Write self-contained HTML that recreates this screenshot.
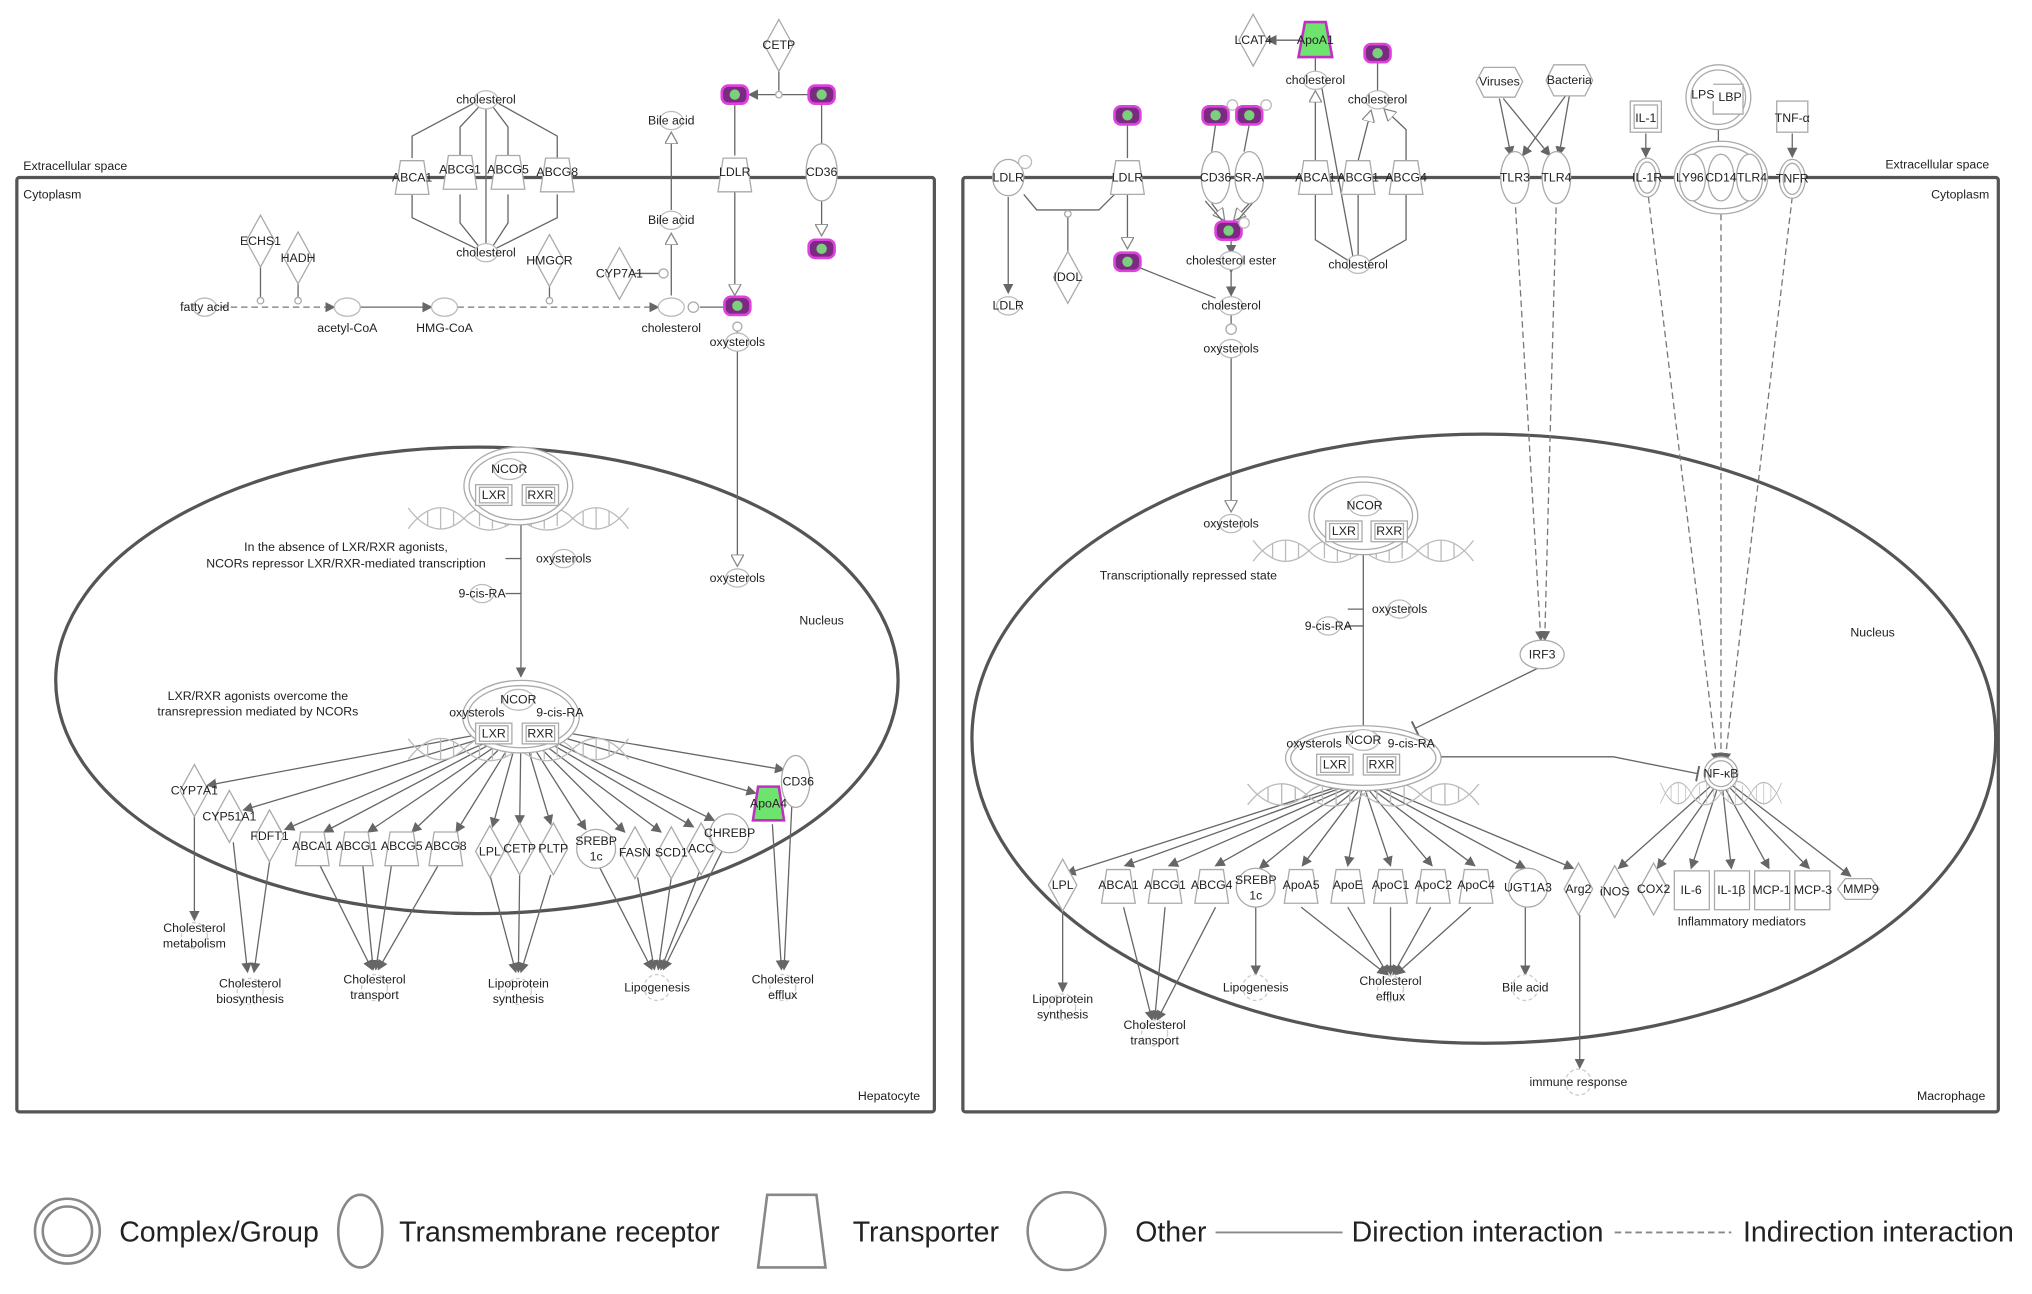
<!DOCTYPE html>
<html><head><meta charset="utf-8"><style>
html,body{margin:0;padding:0;background:#fff;}
svg{display:block;}
text{font-family:"Liberation Sans",sans-serif;fill:#222;font-size:9.5px;text-anchor:middle;}
.n{fill:#fff;stroke:#aaa;stroke-width:1;}
.c{fill:#fff;stroke:#bbb;stroke-width:1;}
.l{stroke:#666;stroke-width:1;fill:none;}
.d{stroke:#777;stroke-width:1;fill:none;stroke-dasharray:5,3;}
.m{stroke:#555;stroke-width:2.5;fill:none;}
.lg{font-size:22px;text-anchor:start;fill:#222;}
.lt{text-anchor:start;}
.rt{text-anchor:end;}
</style></head><body>
<svg width="2032" height="1294" viewBox="0 0 1568 998.5" xmlns="http://www.w3.org/2000/svg">
<defs>
<marker id="a" markerWidth="8" markerHeight="8" refX="7" refY="4" orient="auto" markerUnits="userSpaceOnUse"><path d="M0,0 L8,4 L0,8Z" fill="#666"/></marker>
<marker id="o" markerWidth="10" markerHeight="10" refX="9" refY="5" orient="auto" markerUnits="userSpaceOnUse"><path d="M0,0 L9,5 L0,10Z" fill="#fff" stroke="#888"/></marker>
<marker id="t" markerWidth="4" markerHeight="12" refX="2" refY="6" orient="auto" markerUnits="userSpaceOnUse"><path d="M2,0 L2,12" stroke="#666" stroke-width="1.5"/></marker>
<path id="tr" d="M-9,-13 L9,-13 L13,13 L-13,13Z" class="n"/>
<path id="dia" d="M0,-20 L11,0 L0,20 L-11,0Z" class="n"/>
<ellipse id="ell" rx="11" ry="20" class="n"/>
<ellipse id="sm" rx="9" ry="7" class="c"/>
<g id="hdl"><rect x="-10" y="-7" width="20" height="14" rx="5" fill="#7a2a80" stroke="#e040e0" stroke-width="2"/><ellipse rx="4" ry="4" fill="#7bd07b"/></g>
<g id="fn"><circle r="10" fill="#fff" stroke="#ccc" stroke-dasharray="3,2"/></g>
<g id="hx" fill="none" stroke="#bbb" stroke-width="1"><path d="M-85,8 C-70,-12 -55,-12 -42,0 C-30,12 -15,12 0,0 C15,-12 30,-12 42,0 C55,12 70,12 85,-8"/><path d="M-85,-8 C-70,12 -55,12 -42,0 C-30,-12 -15,-12 0,0 C15,12 30,12 42,0 C55,-12 70,-12 85,8"/><path d="M-70,-6v12M-60,-8v16M-50,-6v12M-30,-6v12M-20,-8v16M-10,-6v12M10,-6v12M20,-8v16M30,-6v12M50,-6v12M60,-8v16M70,-6v12"/></g>
</defs>

<!-- ================= LEFT CELL ================= -->
<rect x="13" y="137" width="708" height="721" rx="2" class="m"/>
<text x="18" y="131" class="lt">Extracellular space</text>
<text x="18" y="153" class="lt">Cytoplasm</text>
<text x="710" y="849" class="rt">Hepatocyte</text>
<ellipse cx="368" cy="525" rx="325" ry="180" class="m" stroke-width="2"/>
<text x="634" y="482">Nucleus</text>

<g class="l">
<path d="M318,122 V105 L365,80"/><path d="M355,120 V98 L370,82"/><path d="M392,120 V98 L380,82"/><path d="M430,122 V105 L385,80"/>
<path d="M375,84 V190"/>
<path d="M318,150 V168 L368,192"/><path d="M355,150 V172 L371,192"/><path d="M392,150 V172 L379,192"/><path d="M430,150 V168 L382,192"/>
</g>
<use href="#sm" x="375" y="77"/><text x="375" y="80">cholesterol</text>
<use href="#sm" x="375" y="195"/><text x="375" y="198">cholesterol</text>
<use href="#tr" x="318" y="137"/><text x="318" y="140">ABCA1</text>
<use href="#tr" x="355" y="133"/><text x="355" y="134">ABCG1</text>
<use href="#tr" x="392" y="133"/><text x="392" y="134">ABCG5</text>
<use href="#tr" x="430" y="135"/><text x="430" y="136">ABCG8</text>

<g class="l">
<path d="M601,55 V70"/><path d="M625,73 H578" marker-end="url(#a)"/>
<path d="M634,80 V115"/><path d="M634,155 V182" marker-end="url(#o)"/>
<path d="M567,80 V120"/><path d="M567,148 V228" marker-end="url(#o)"/>
<path d="M569,250 V437" marker-end="url(#o)"/>
<path d="M518,228 V180" marker-end="url(#o)"/><path d="M518,162 V102" marker-end="url(#o)"/>
<path d="M490,211 H508"/>
<path d="M170,237 H258" class="d" marker-end="url(#a)"/>
<path d="M278,237 H333" marker-end="url(#a)" marker-start="url(#a)"/>
<path d="M353,237 H508" class="d" marker-end="url(#a)"/>
<path d="M201,206 V230"/><path d="M230,219 V230"/><path d="M424,221 V230"/>
<path d="M540,237 H559"/>
</g>
<circle cx="601" cy="73" r="2.5" class="n"/>
<use href="#dia" x="601" y="35"/><text x="601" y="38">CETP</text>
<use href="#hdl" x="567" y="73"/><use href="#hdl" x="634" y="73"/>
<use href="#tr" x="567" y="135"/><text x="567" y="136">LDLR</text>
<ellipse cx="634" cy="133" rx="12" ry="22" class="n"/><text x="634" y="136">CD36</text>
<use href="#hdl" x="634" y="192"/>
<use href="#sm" x="518" y="93"/><text x="518" y="96">Bile acid</text>
<use href="#sm" x="518" y="170"/><text x="518" y="173">Bile acid</text>
<use href="#dia" x="478" y="211"/><text x="478" y="214">CYP7A1</text>
<circle cx="512" cy="211" r="3.5" class="n"/>
<use href="#dia" x="201" y="186"/><text x="201" y="189">ECHS1</text>
<use href="#dia" x="230" y="199"/><text x="230" y="202">HADH</text>
<use href="#dia" x="424" y="201"/><text x="424" y="204">HMGCR</text>
<circle cx="201" cy="232" r="2.5" class="n"/><circle cx="230" cy="232" r="2.5" class="n"/><circle cx="424" cy="232" r="2.5" class="n"/>
<use href="#sm" x="158" y="237"/><text x="158" y="240">fatty acid</text>
<ellipse cx="268" cy="237" rx="10" ry="7" class="c"/><text x="268" y="256">acetyl-CoA</text>
<ellipse cx="343" cy="237" rx="10" ry="7" class="c"/><text x="343" y="256">HMG-CoA</text>
<ellipse cx="518" cy="237" rx="10" ry="7" class="c"/><text x="518" y="256">cholesterol</text>
<circle cx="535" cy="237" r="4" class="n"/>
<use href="#hdl" x="569" y="236"/>
<circle cx="569" cy="252" r="3.5" class="n"/>
<use href="#sm" x="569" y="264"/><text x="569" y="267">oxysterols</text>
<use href="#sm" x="569" y="446"/><text x="569" y="449">oxysterols</text>

<path d="M402,400 V522" class="l" marker-end="url(#a)"/>
<path d="M390,431 C398,431 398,431 402,431" class="l"/>
<path d="M390,458 H402" class="l"/>
<use href="#hx" x="400" y="400"/>
<ellipse cx="400" cy="375" rx="42" ry="30" class="n"/><ellipse cx="400" cy="375" rx="38" ry="26" class="n"/>
<ellipse cx="393" cy="362" rx="12" ry="8" class="c"/><text x="393" y="365">NCOR</text>
<rect x="367" y="374" width="28" height="16" class="n"/><rect x="370" y="376" width="22" height="12" class="n"/><text x="381" y="385">LXR</text>
<rect x="403" y="374" width="28" height="16" class="n"/><rect x="406" y="376" width="22" height="12" class="n"/><text x="417" y="385">RXR</text>
<text x="267" y="425">In the absence of LXR/RXR agonists,</text>
<text x="267" y="438">NCORs repressor LXR/RXR-mediated transcription</text>
<use href="#sm" x="435" y="431"/><text x="435" y="434">oxysterols</text>
<use href="#sm" x="372" y="458"/><text x="372" y="461">9-cis-RA</text>
<text x="199" y="540">LXR/RXR agonists overcome the</text>
<text x="199" y="552">transrepression mediated by NCORs</text>

<g class="l">
<path d="M395,562 L160,606" marker-end="url(#a)"/>
<path d="M395,563 L188,625" marker-end="url(#a)"/>
<path d="M396,564 L220,640" marker-end="url(#a)"/>
<path d="M396,565 L250,642" marker-end="url(#a)"/>
<path d="M397,566 L284,642" marker-end="url(#a)"/>
<path d="M398,566 L318,642" marker-end="url(#a)"/>
<path d="M399,566 L352,642" marker-end="url(#a)"/>
<path d="M400,566 L380,638" marker-end="url(#a)"/>
<path d="M402,566 L401,636" marker-end="url(#a)"/>
<path d="M404,566 L425,636" marker-end="url(#a)"/>
<path d="M405,566 L452,640" marker-end="url(#a)"/>
<path d="M406,566 L482,642" marker-end="url(#a)"/>
<path d="M407,565 L510,642" marker-end="url(#a)"/>
<path d="M408,564 L535,638" marker-end="url(#a)"/>
<path d="M409,563 L551,633" marker-end="url(#a)"/>
<path d="M410,562 L583,612" marker-end="url(#a)"/>
<path d="M411,561 L605,594" marker-end="url(#a)"/>
<path d="M150,630 V710" marker-end="url(#a)"/>
<path d="M180,650 L191,750" marker-end="url(#a)"/>
<path d="M208,665 L196,750" marker-end="url(#a)"/>
<path d="M247,668 L287,748" marker-end="url(#a)"/><path d="M280,668 L288,748" marker-end="url(#a)"/><path d="M302,668 L290,748" marker-end="url(#a)"/><path d="M338,668 L292,748" marker-end="url(#a)"/>
<path d="M378,675 L398,750" marker-end="url(#a)"/><path d="M401,675 L400,750" marker-end="url(#a)"/><path d="M425,675 L402,750" marker-end="url(#a)"/>
<path d="M462,668 L503,748" marker-end="url(#a)"/><path d="M492,677 L505,748" marker-end="url(#a)"/><path d="M518,677 L508,748" marker-end="url(#a)"/><path d="M540,672 L510,748" marker-end="url(#a)"/><path d="M558,655 L512,748" marker-end="url(#a)"/>
<path d="M596,636 L603,748" marker-end="url(#a)"/><path d="M611,622 L605,748" marker-end="url(#a)"/>
</g>
<use href="#hx" x="400" y="578"/>
<ellipse cx="402" cy="553" rx="45" ry="28" class="n"/><ellipse cx="402" cy="553" rx="41" ry="24" class="n"/>
<ellipse cx="400" cy="540" rx="12" ry="8" class="c"/><text x="400" y="543">NCOR</text>
<text x="368" y="553">oxysterols</text><text x="432" y="553">9-cis-RA</text>
<rect x="367" y="558" width="28" height="16" class="n"/><rect x="370" y="560" width="22" height="12" class="n"/><text x="381" y="569">LXR</text>
<rect x="403" y="558" width="28" height="16" class="n"/><rect x="406" y="560" width="22" height="12" class="n"/><text x="417" y="569">RXR</text>

<use href="#dia" x="150" y="610"/><text x="150" y="613">CYP7A1</text>
<use href="#dia" x="177" y="630"/><text x="177" y="633">CYP51A1</text>
<use href="#dia" x="208" y="645"/><text x="208" y="648">FDFT1</text>
<use href="#tr" x="241" y="655"/><text x="241" y="656">ABCA1</text>
<use href="#tr" x="275" y="655"/><text x="275" y="656">ABCG1</text>
<use href="#tr" x="310" y="655"/><text x="310" y="656">ABCG5</text>
<use href="#tr" x="344" y="655"/><text x="344" y="656">ABCG8</text>
<use href="#dia" x="378" y="657"/><text x="378" y="660">LPL</text>
<use href="#dia" x="401" y="655"/><text x="401" y="658">CETP</text>
<use href="#dia" x="427" y="655"/><text x="427" y="658">PLTP</text>
<circle cx="460" cy="655" r="15" class="n"/><text x="460" y="652">SREBP</text><text x="460" y="664">1c</text>
<use href="#dia" x="490" y="658"/><text x="490" y="661">FASN</text>
<use href="#dia" x="518" y="658"/><text x="518" y="661">SCD1</text>
<use href="#dia" x="541" y="655"/><text x="541" y="658">ACC</text>
<circle cx="563" cy="643" r="15" class="n"/><text x="563" y="646">CHREBP</text>
<ellipse cx="614" cy="603" rx="11" ry="20" class="n"/><text x="616" y="606">CD36</text>
<path d="M585,607 L601,607 L605,633 L581,633Z" fill="#6ee36e" stroke="#c030c0" stroke-width="2"/><text x="593" y="623">ApoA4</text>

<use href="#fn" x="150" y="722"/><text x="150" y="719">Cholesterol</text><text x="150" y="731">metabolism</text>
<use href="#fn" x="193" y="765"/><text x="193" y="762">Cholesterol</text><text x="193" y="774">biosynthesis</text>
<use href="#fn" x="289" y="762"/><text x="289" y="759">Cholesterol</text><text x="289" y="771">transport</text>
<use href="#fn" x="400" y="765"/><text x="400" y="762">Lipoprotein</text><text x="400" y="774">synthesis</text>
<use href="#fn" x="507" y="762"/><text x="507" y="765">Lipogenesis</text>
<use href="#fn" x="604" y="762"/><text x="604" y="759">Cholesterol</text><text x="604" y="771">efflux</text>

<!-- ================= RIGHT CELL ================= -->
<rect x="743" y="137" width="799" height="721" rx="2" class="m"/>
<text x="1535" y="130" class="rt">Extracellular space</text>
<text x="1535" y="153" class="rt">Cytoplasm</text>
<text x="1532" y="849" class="rt">Macrophage</text>
<ellipse cx="1145" cy="570" rx="395" ry="235" class="m" stroke-width="2"/>
<text x="1445" y="491">Nucleus</text>

<g class="l">
<path d="M1003,31 H978" marker-end="url(#a)"/>
<path d="M1015,45 V56"/>
<path d="M1015,124 V70" marker-end="url(#o)"/>
<path d="M1063,48 V70"/>
<path d="M1048,124 L1058,85" marker-end="url(#o)"/><path d="M1085,124 V100 L1068,84" marker-end="url(#o)"/>
<path d="M1015,150 V185 L1045,204"/><path d="M1048,150 V197"/><path d="M1085,150 V185 L1052,204"/>
<path d="M1020,68 L1044,198"/>
<path d="M778,152 V226" marker-end="url(#a)"/>
<path d="M790,150 L800,162 H848 L860,150"/><path d="M824,165 V196"/>
<path d="M870,96 V122"/><path d="M870,150 V192" marker-end="url(#o)"/>
<path d="M878,206 L938,230"/>
<path d="M938,96 L935,117"/><path d="M964,96 L960,117"/>
<path d="M935,157 L945,170" marker-end="url(#o)"/><path d="M964,157 L952,170" marker-end="url(#o)"/><path d="M930,155 L943,170"/><path d="M968,155 L955,170"/>
<path d="M950,186 V196" marker-end="url(#a)"/>
<path d="M950,210 V228" marker-end="url(#a)" marker-start="url(#a)"/>
<path d="M950,242 V250"/>
<path d="M950,276 V395" marker-end="url(#o)"/>
<path d="M1157,76 L1166,120" marker-end="url(#a)"/><path d="M1160,76 L1196,120" marker-end="url(#a)"/>
<path d="M1208,74 L1175,120" marker-end="url(#a)"/><path d="M1211,74 L1203,120" marker-end="url(#a)"/>
<path d="M1270,103 V121" marker-end="url(#a)"/>
<path d="M1383,103 V121" marker-end="url(#a)"/>
<path d="M1326,100 V110"/>
<path d="M1190,514 L1092,562" marker-end="url(#t)"/>
<path d="M1112,584 H1245 L1310,597" marker-end="url(#t)"/>
</g>
<g class="d">
<path d="M1169,152 L1189,494" marker-end="url(#a)"/>
<path d="M1201,152 L1192,494" marker-end="url(#a)"/>
<path d="M1272,152 L1325,588" marker-end="url(#a)"/>
<path d="M1328,165 V588" marker-end="url(#a)"/>
<path d="M1383,152 L1331,588" marker-end="url(#a)"/>
</g>

<use href="#dia" x="967" y="31"/><text x="967" y="34">LCAT4</text>
<path d="M1007,17 L1023,17 L1028,44 L1002,44Z" fill="#6ee36e" stroke="#c030c0" stroke-width="2"/><text x="1015" y="34">ApoA1</text>
<use href="#sm" x="1015" y="62"/><text x="1015" y="65">cholesterol</text>
<use href="#hdl" x="1063" y="41"/>
<use href="#sm" x="1063" y="77"/><text x="1063" y="80">cholesterol</text>
<use href="#hdl" x="870" y="89"/>
<use href="#hdl" x="938" y="89"/><circle cx="951" cy="81" r="4" class="c"/>
<use href="#hdl" x="964" y="89"/><circle cx="977" cy="81" r="4" class="c"/>
<ellipse cx="778" cy="137" rx="12" ry="14" class="n"/><text x="778" y="140">LDLR</text><circle cx="791" cy="125" r="5" class="c"/>
<use href="#tr" x="870" y="137"/><text x="870" y="140">LDLR</text>
<use href="#ell" x="938" y="137"/><text x="938" y="140">CD36</text>
<use href="#ell" x="964" y="137"/><text x="964" y="140">SR-A</text>
<use href="#tr" x="1015" y="137"/><text x="1015" y="140">ABCA1</text>
<use href="#tr" x="1048" y="137"/><text x="1048" y="140">ABCG1</text>
<use href="#tr" x="1085" y="137"/><text x="1085" y="140">ABCG4</text>
<use href="#sm" x="778" y="236"/><text x="778" y="239">LDLR</text>
<circle cx="824" cy="165" r="2.5" class="n"/>
<use href="#dia" x="824" y="214"/><text x="824" y="217">IDOL</text>
<use href="#hdl" x="870" y="202"/>
<use href="#hdl" x="948" y="178"/><circle cx="960" cy="172" r="4" class="c"/>
<use href="#sm" x="950" y="201"/><text x="950" y="204">cholesterol ester</text>
<use href="#sm" x="950" y="236"/><text x="950" y="239">cholesterol</text>
<circle cx="950" cy="254" r="4" class="n"/>
<use href="#sm" x="950" y="269"/><text x="950" y="272">oxysterols</text>
<use href="#sm" x="950" y="404"/><text x="950" y="407">oxysterols</text>
<use href="#sm" x="1048" y="204"/><text x="1048" y="207">cholesterol</text>

<path d="M1145,52 L1169,52 L1175,63 L1169,75 L1145,75 L1139,63Z" class="n"/><text x="1157" y="66">Viruses</text>
<path d="M1199,50 L1223,50 L1229,62 L1223,74 L1199,74 L1193,62Z" class="n"/><text x="1211" y="65">Bacteria</text>
<use href="#ell" x="1169" y="137"/><text x="1169" y="140">TLR3</text>
<use href="#ell" x="1201" y="137"/><text x="1201" y="140">TLR4</text>
<rect x="1258" y="78" width="24" height="24" class="n"/><rect x="1261" y="81" width="18" height="18" class="n"/><text x="1270" y="94">IL-1</text>
<ellipse cx="1271" cy="137" rx="10" ry="15" class="n"/><ellipse cx="1271" cy="137" rx="7" ry="12" class="n"/><text x="1271" y="140">IL-1R</text>
<circle cx="1326" cy="75" r="25" class="n"/><circle cx="1326" cy="75" r="21" class="n"/>
<path d="M1322,65 H1345 V88 H1322 V78" class="n"/><text x="1314" y="76">LPS</text><text x="1335" y="78">LBP</text>
<ellipse cx="1328" cy="137" rx="36" ry="28" class="n"/><ellipse cx="1328" cy="137" rx="32" ry="24" class="n"/>
<ellipse cx="1306" cy="137" rx="10" ry="18" class="n"/><ellipse cx="1328" cy="137" rx="10" ry="18" class="n"/><ellipse cx="1350" cy="137" rx="10" ry="18" class="n"/>
<text x="1304" y="140">LY96</text><text x="1328" y="140">CD14</text><text x="1352" y="140">TLR4</text>
<rect x="1371" y="78" width="24" height="24" class="n"/><text x="1383" y="94">TNF-α</text>
<ellipse cx="1383" cy="138" rx="10" ry="15" class="n"/><ellipse cx="1383" cy="138" rx="7" ry="12" class="n"/><text x="1383" y="141">TNFR</text>

<path d="M1052,425 V582" class="l" marker-end="url(#a)"/>
<path d="M1040,470 H1052M1038,483 H1052" class="l"/>
<use href="#hx" x="1052" y="425"/>
<ellipse cx="1052" cy="398" rx="42" ry="30" class="n"/><ellipse cx="1052" cy="398" rx="38" ry="26" class="n"/>
<ellipse cx="1053" cy="390" rx="12" ry="8" class="c"/><text x="1053" y="393">NCOR</text>
<rect x="1023" y="402" width="28" height="16" class="n"/><rect x="1026" y="404" width="22" height="12" class="n"/><text x="1037" y="413">LXR</text>
<rect x="1058" y="402" width="28" height="16" class="n"/><rect x="1061" y="404" width="22" height="12" class="n"/><text x="1072" y="413">RXR</text>
<text x="917" y="447">Transcriptionally repressed state</text>
<use href="#sm" x="1080" y="470"/><text x="1080" y="473">oxysterols</text>
<use href="#sm" x="1025" y="483"/><text x="1025" y="486">9-cis-RA</text>
<ellipse cx="1190" cy="505" rx="17" ry="11" class="n"/><text x="1190" y="508">IRF3</text>

<g class="l">
<path d="M1045,603 L823,674" marker-end="url(#a)"/>
<path d="M1046,604 L868,668" marker-end="url(#a)"/>
<path d="M1047,605 L902,668" marker-end="url(#a)"/>
<path d="M1048,606 L938,668" marker-end="url(#a)"/>
<path d="M1049,607 L972,670" marker-end="url(#a)"/>
<path d="M1050,608 L1005,668" marker-end="url(#a)"/>
<path d="M1051,608 L1040,668" marker-end="url(#a)"/>
<path d="M1053,608 L1073,668" marker-end="url(#a)"/>
<path d="M1054,607 L1105,668" marker-end="url(#a)"/>
<path d="M1055,606 L1138,668" marker-end="url(#a)"/>
<path d="M1056,605 L1177,670" marker-end="url(#a)"/>
<path d="M1057,604 L1214,670" marker-end="url(#a)"/>
<path d="M820,703 V765" marker-end="url(#a)"/>
<path d="M867,700 L889,787" marker-end="url(#a)"/><path d="M899,700 L891,787" marker-end="url(#a)"/><path d="M938,700 L893,787" marker-end="url(#a)"/>
<path d="M969,700 V752" marker-end="url(#a)"/>
<path d="M1004,700 L1070,752" marker-end="url(#a)"/><path d="M1040,700 L1071,752" marker-end="url(#a)"/><path d="M1073,700 V752" marker-end="url(#a)"/><path d="M1104,700 L1075,752" marker-end="url(#a)"/><path d="M1135,700 L1077,752" marker-end="url(#a)"/>
<path d="M1177,700 V752" marker-end="url(#a)"/>
<path d="M1219,706 V824" marker-end="url(#a)"/>
<path d="M1323,604 L1249,670" marker-end="url(#a)"/>
<path d="M1325,605 L1279,670" marker-end="url(#a)"/>
<path d="M1326,606 L1305,670" marker-end="url(#a)"/>
<path d="M1329,606 L1336,670" marker-end="url(#a)"/>
<path d="M1330,606 L1365,670" marker-end="url(#a)"/>
<path d="M1332,605 L1396,670" marker-end="url(#a)"/>
<path d="M1334,604 L1428,676" marker-end="url(#a)"/>
</g>
<use href="#hx" x="1052" y="613" transform="translate(1052 613) scale(1.05 1) translate(-1052 -613)"/>
<use href="#hx" x="1328" y="612" transform="translate(1328 612) scale(0.55 1) translate(-1328 -612)"/>
<ellipse cx="1052" cy="585" rx="60" ry="25" class="n"/><ellipse cx="1052" cy="585" rx="56" ry="21" class="n"/>
<ellipse cx="1052" cy="571" rx="12" ry="8" class="c"/><text x="1052" y="574">NCOR</text>
<text x="1014" y="577">oxysterols</text><text x="1089" y="577">9-cis-RA</text>
<rect x="1016" y="582" width="28" height="16" class="n"/><rect x="1019" y="584" width="22" height="12" class="n"/><text x="1030" y="593">LXR</text>
<rect x="1052" y="582" width="28" height="16" class="n"/><rect x="1055" y="584" width="22" height="12" class="n"/><text x="1066" y="593">RXR</text>
<circle cx="1328" cy="597" r="13" class="n"/><circle cx="1328" cy="597" r="10" class="n"/><text x="1328" y="600">NF-κB</text>

<use href="#dia" x="820" y="683"/><text x="820" y="686">LPL</text>
<use href="#tr" x="863" y="684"/><text x="863" y="686">ABCA1</text>
<use href="#tr" x="899" y="684"/><text x="899" y="686">ABCG1</text>
<use href="#tr" x="935" y="684"/><text x="935" y="686">ABCG4</text>
<circle cx="969" cy="685" r="15" class="n"/><text x="969" y="682">SREBP</text><text x="969" y="694">1c</text>
<use href="#tr" x="1004" y="684"/><text x="1004" y="686">ApoA5</text>
<use href="#tr" x="1040" y="684"/><text x="1040" y="686">ApoE</text>
<use href="#tr" x="1073" y="684"/><text x="1073" y="686">ApoC1</text>
<use href="#tr" x="1106" y="684"/><text x="1106" y="686">ApoC2</text>
<use href="#tr" x="1139" y="684"/><text x="1139" y="686">ApoC4</text>
<circle cx="1179" cy="685" r="15" class="n"/><text x="1179" y="688">UGT1A3</text>
<use href="#dia" x="1218" y="686"/><text x="1218" y="689">Arg2</text>
<use href="#dia" x="1246" y="688"/><text x="1246" y="691">iNOS</text>
<use href="#dia" x="1276" y="686"/><text x="1276" y="689">COX2</text>
<rect x="1292" y="672" width="27" height="30" class="n"/><text x="1305" y="690">IL-6</text>
<rect x="1323" y="672" width="27" height="30" class="n"/><text x="1336" y="690">IL-1β</text>
<rect x="1354" y="672" width="27" height="30" class="n"/><text x="1367" y="690">MCP-1</text>
<rect x="1385" y="672" width="27" height="30" class="n"/><text x="1399" y="690">MCP-3</text>
<path d="M1424,678 L1444,678 L1450,686 L1444,694 L1424,694 L1418,686Z" class="n"/><text x="1436" y="689">MMP9</text>
<text x="1344" y="714">Inflammatory mediators</text>

<use href="#fn" x="820" y="777"/><text x="820" y="774">Lipoprotein</text><text x="820" y="786">synthesis</text>
<use href="#fn" x="891" y="797"/><text x="891" y="794">Cholesterol</text><text x="891" y="806">transport</text>
<use href="#fn" x="969" y="762"/><text x="969" y="765">Lipogenesis</text>
<use href="#fn" x="1073" y="763"/><text x="1073" y="760">Cholesterol</text><text x="1073" y="772">efflux</text>
<use href="#fn" x="1177" y="762"/><text x="1177" y="765">Bile acid</text>
<use href="#fn" x="1218" y="835"/><text x="1218" y="838">immune response</text>

<!-- ================= LEGEND ================= -->
<circle cx="52" cy="950" r="25" fill="#fff" stroke="#888" stroke-width="2"/><circle cx="52" cy="950" r="19" fill="#fff" stroke="#888" stroke-width="2"/>
<text x="92" y="958" class="lg">Complex/Group</text>
<ellipse cx="278" cy="950" rx="17" ry="28" fill="#fff" stroke="#888" stroke-width="2"/>
<text x="308" y="958" class="lg">Transmembrane receptor</text>
<path d="M592,922 L630,922 L637,978 L585,978Z" fill="#fff" stroke="#888" stroke-width="2"/>
<text x="658" y="958" class="lg">Transporter</text>
<circle cx="823" cy="950" r="30" fill="#fff" stroke="#888" stroke-width="2"/>
<text x="876" y="958" class="lg">Other</text>
<path d="M938,951 H1036" stroke="#888" stroke-width="1.5"/>
<text x="1043" y="958" class="lg">Direction interaction</text>
<path d="M1246,951 H1336" stroke="#888" stroke-width="1.5" stroke-dasharray="5,3"/>
<text x="1345" y="958" class="lg">Indirection interaction</text>
</svg>
</body></html>
